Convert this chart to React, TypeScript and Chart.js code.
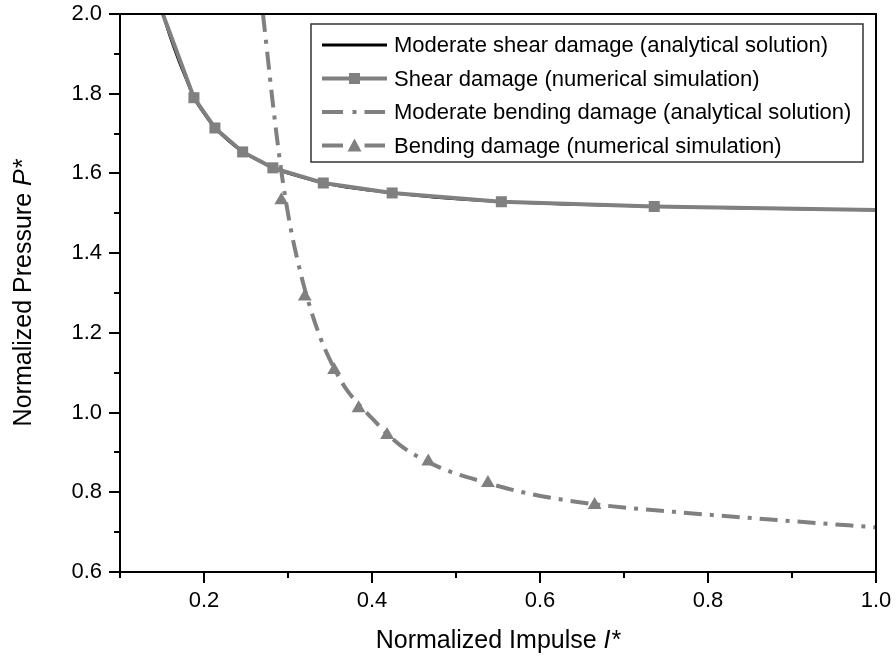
import React, { useEffect, useRef } from 'react';
import { Chart, registerables } from 'chart.js';

Chart.register(...registerables);

// ---- Data ----
const shearAnalyticalI = [0.151, 0.16, 0.17, 0.18, 0.188, 0.2, 0.213, 0.23, 0.246, 0.265, 0.282, 0.31, 0.342, 0.38, 0.424, 0.48, 0.554, 0.64, 0.736, 0.86, 1.0];
const shearAnalyticalP = [2.0, 1.94, 1.882, 1.83, 1.79, 1.75, 1.714, 1.68, 1.654, 1.632, 1.614, 1.594, 1.576, 1.562, 1.551, 1.539, 1.529, 1.522, 1.517, 1.512, 1.508];

const shearNumericalI = [0.151, 0.188, 0.213, 0.246, 0.282, 0.342, 0.424, 0.554, 0.736, 1.0];
const shearNumericalP = [2.0, 1.79, 1.714, 1.654, 1.614, 1.576, 1.551, 1.529, 1.517, 1.508];
const shearNumericalMarker = [false, true, true, true, true, true, true, true, true, false];

const bendingAnalyticalI = [0.2702, 0.2756, 0.2815, 0.2875, 0.2935, 0.3024, 0.3107, 0.3202, 0.3381, 0.356, 0.37, 0.398, 0.433, 0.481, 0.538, 0.584, 0.665, 0.759, 0.878, 1.0];
const bendingAnalyticalP = [2.0, 1.897, 1.784, 1.679, 1.584, 1.471, 1.388, 1.308, 1.19, 1.107, 1.057, 0.99, 0.919, 0.862, 0.823, 0.798, 0.77, 0.751, 0.731, 0.712];

const bendingNumericalI = [0.292, 0.32, 0.355, 0.384, 0.418, 0.467, 0.538, 0.665];
const bendingNumericalP = [1.533, 1.291, 1.107, 1.011, 0.944, 0.877, 0.823, 0.768];

const seriesLabels = [
  'Moderate shear damage (analytical solution)',
  'Shear damage (numerical simulation)',
  'Moderate bending damage (analytical solution)',
  'Bending damage (numerical simulation)',
];

const xMajorTicks = [0.2, 0.4, 0.6, 0.8, 1.0];
const xMinorTicks = [0.1, 0.3, 0.5, 0.7, 0.9];
const yMajorTicks = [0.6, 0.8, 1.0, 1.2, 1.4, 1.6, 1.8, 2.0];
const yMinorTicks = [0.7, 0.9, 1.1, 1.3, 1.5, 1.7, 1.9];

const xTitleMain = 'Normalized Impulse ';
const xTitleSym = 'I*';
const yTitleMain = 'Normalized Pressure ';
const yTitleSym = 'P*';

const GRAY = '#808080';
const FONT_FAMILY = '"Liberation Sans", Arial, sans-serif';

const toPoints = (xs: number[], ys: number[]) => xs.map((x, i) => ({ x, y: ys[i] }));

const decorPlugin = {
  id: 'decor',
  afterDraw(chart: any) {
    const { ctx, chartArea } = chart;
    const { left, right, top, bottom } = chartArea;
    const xs = chart.scales.x;
    const ys = chart.scales.y;
    ctx.save();

    // frame
    ctx.strokeStyle = '#000';
    ctx.lineWidth = 2;
    ctx.strokeRect(left, top, right - left, bottom - top);

    // ticks
    ctx.beginPath();
    xMajorTicks.forEach((v) => {
      const p = Math.round(xs.getPixelForValue(v));
      ctx.moveTo(p, bottom);
      ctx.lineTo(p, bottom + 11);
    });
    xMinorTicks.forEach((v) => {
      const p = Math.round(xs.getPixelForValue(v));
      ctx.moveTo(p, bottom);
      ctx.lineTo(p, bottom + 6);
    });
    yMajorTicks.forEach((v) => {
      const p = Math.round(ys.getPixelForValue(v));
      ctx.moveTo(left, p);
      ctx.lineTo(left - 11, p);
    });
    yMinorTicks.forEach((v) => {
      const p = Math.round(ys.getPixelForValue(v));
      ctx.moveTo(left, p);
      ctx.lineTo(left - 6, p);
    });
    ctx.stroke();

    // legend box
    const bx = 311, by = 24, bw = 552, bh = 138;
    ctx.fillStyle = '#fff';
    ctx.fillRect(bx, by, bw, bh);
    ctx.strokeStyle = '#333';
    ctx.lineWidth = 1.5;
    ctx.strokeRect(bx, by, bw, bh);

    const rowY = [45, 78.5, 112, 145.5];
    const sx0 = 322, sx1 = 387, sxm = 354.5;
    ctx.lineCap = 'butt';

    // row 1: black solid
    ctx.strokeStyle = '#000';
    ctx.lineWidth = 3;
    ctx.beginPath();
    ctx.moveTo(sx0, rowY[0]);
    ctx.lineTo(sx1, rowY[0]);
    ctx.stroke();

    // row 2: gray solid + square
    ctx.strokeStyle = GRAY;
    ctx.lineWidth = 4;
    ctx.beginPath();
    ctx.moveTo(sx0, rowY[1]);
    ctx.lineTo(sx1, rowY[1]);
    ctx.stroke();
    ctx.fillStyle = GRAY;
    ctx.fillRect(sxm - 5.5, rowY[1] - 5.5, 11, 11);

    // row 3: dash dot dash
    ctx.beginPath();
    ctx.moveTo(sx0, rowY[2]);
    ctx.lineTo(sx0 + 21, rowY[2]);
    ctx.moveTo(sxm - 2, rowY[2]);
    ctx.lineTo(sxm + 2, rowY[2]);
    ctx.moveTo(sxm + 10, rowY[2]);
    ctx.lineTo(sx1 - 2, rowY[2]);
    ctx.stroke();

    // row 4: dash triangle dash
    ctx.beginPath();
    ctx.moveTo(sx0, rowY[3]);
    ctx.lineTo(sx0 + 21, rowY[3]);
    ctx.moveTo(sxm + 10, rowY[3]);
    ctx.lineTo(sx1 - 2, rowY[3]);
    ctx.stroke();
    ctx.beginPath();
    ctx.moveTo(sxm, rowY[3] - 7);
    ctx.lineTo(sxm + 7, rowY[3] + 6);
    ctx.lineTo(sxm - 7, rowY[3] + 6);
    ctx.closePath();
    ctx.fill();

    ctx.fillStyle = '#000';
    ctx.font = `22px ${FONT_FAMILY}`;
    ctx.textBaseline = 'middle';
    ctx.textAlign = 'left';
    seriesLabels.forEach((t, i) => ctx.fillText(t, 394, rowY[i] + 1));

    // axis titles
    const normal = `25px ${FONT_FAMILY}`;
    const italic = `italic 25px ${FONT_FAMILY}`;
    const drawTitle = (main: string, sym: string, cx: number, cy: number, rot: number) => {
      ctx.save();
      ctx.translate(cx, cy);
      ctx.rotate(rot);
      ctx.font = normal;
      const w1 = ctx.measureText(main).width;
      ctx.font = italic;
      const w2 = ctx.measureText(sym).width;
      const start = -(w1 + w2) / 2;
      ctx.textBaseline = 'middle';
      ctx.textAlign = 'left';
      ctx.fillStyle = '#000';
      ctx.font = normal;
      ctx.fillText(main, start, 0);
      ctx.font = italic;
      ctx.fillText(sym, start + w1, 0);
      ctx.restore();
    };
    drawTitle(xTitleMain, xTitleSym, (left + right) / 2, 641, 0);
    drawTitle(yTitleMain, yTitleSym, 24, (top + bottom) / 2, -Math.PI / 2);

    ctx.restore();
  },
};

export default function App() {
  const canvasRef = useRef<HTMLCanvasElement | null>(null);

  useEffect(() => {
    document.body.style.margin = '0';
    const canvas = canvasRef.current;
    if (!canvas) return;
    const isMajor = (v: number, list: number[]) => list.some((m) => Math.abs(m - v) < 1e-6);

    const chart = new Chart(canvas, {
      type: 'scatter',
      data: {
        datasets: [
          {
            label: seriesLabels[0],
            data: toPoints(shearAnalyticalI, shearAnalyticalP),
            showLine: true,
            borderColor: '#000',
            borderWidth: 2.5,
            pointRadius: 0,
            cubicInterpolationMode: 'monotone',
            order: 4,
          },
          {
            label: seriesLabels[1],
            data: toPoints(shearNumericalI, shearNumericalP),
            showLine: true,
            borderColor: GRAY,
            borderWidth: 4,
            pointStyle: 'rect',
            pointRadius: shearNumericalMarker.map((m) => (m ? 7.8 : 0)),
            pointBackgroundColor: GRAY,
            pointBorderWidth: 0,
            tension: 0,
            order: 3,
          },
          {
            label: seriesLabels[2],
            data: toPoints(bendingAnalyticalI, bendingAnalyticalP),
            showLine: true,
            borderColor: GRAY,
            borderWidth: 4,
            borderDash: [18, 8, 4, 8],
            pointRadius: 0,
            cubicInterpolationMode: 'monotone',
            order: 2,
          },
          {
            label: seriesLabels[3],
            data: toPoints(bendingNumericalI, bendingNumericalP),
            showLine: false,
            borderColor: GRAY,
            pointStyle: 'triangle',
            pointRadius: 8,
            pointBackgroundColor: GRAY,
            pointBorderWidth: 0,
            order: 1,
          },
        ],
      },
      options: {
        responsive: false,
        animation: false,
        layout: { padding: { top: 14, right: 20, left: 0, bottom: 0 } },
        plugins: { legend: { display: false }, tooltip: { enabled: false } },
        scales: {
          x: {
            type: 'linear',
            min: 0.1,
            max: 1.0,
            grid: { display: false, drawTicks: false },
            border: { display: false },
            ticks: {
              stepSize: 0.1,
              autoSkip: false,
              maxRotation: 0,
              padding: 16,
              color: '#000',
              font: { family: FONT_FAMILY, size: 22 },
              callback: (v: any) => (isMajor(Number(v), xMajorTicks) ? Number(v).toFixed(1) : ''),
            },
            afterFit: (s: any) => {
              s.height = 91;
              s.paddingLeft = 0;
              s.paddingRight = 0;
            },
          },
          y: {
            type: 'linear',
            min: 0.6,
            max: 2.0,
            grid: { display: false, drawTicks: false },
            border: { display: false },
            ticks: {
              stepSize: 0.2,
              autoSkip: false,
              padding: 18,
              color: '#000',
              font: { family: FONT_FAMILY, size: 22 },
              callback: (v: any) => (isMajor(Number(v), yMajorTicks) ? Number(v).toFixed(1) : ''),
            },
            afterFit: (s: any) => {
              s.width = 120;
              s.paddingTop = 0;
              s.paddingBottom = 0;
            },
          },
        },
      },
      plugins: [decorPlugin],
    } as any);

    return () => chart.destroy();
  }, []);

  return (
    <div style={{ width: 896, height: 663 }}>
      <canvas ref={canvasRef} width={896} height={663} />
    </div>
  );
}
